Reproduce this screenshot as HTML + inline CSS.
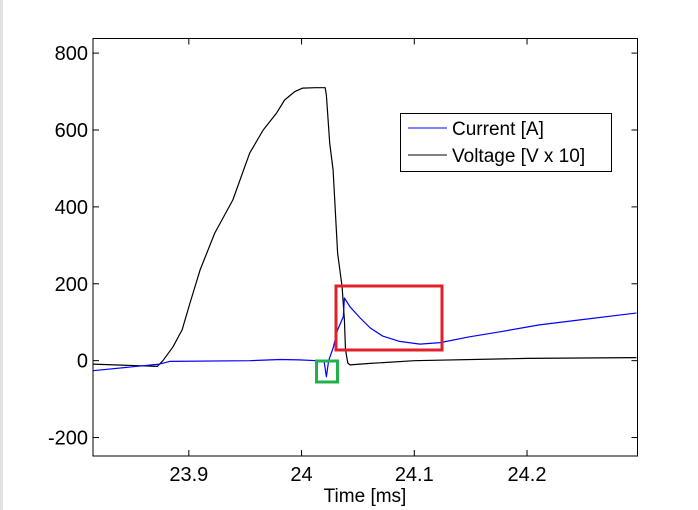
<!DOCTYPE html>
<html><head><meta charset="utf-8"><style>
body{margin:0;background:#fff;width:698px;height:510px;overflow:hidden}
svg{display:block;font-family:"Liberation Sans",Arial,sans-serif}
</style></head><body>
<svg id="chart" width="698" height="510" xmlns="http://www.w3.org/2000/svg">
<rect x="0" y="0" width="3" height="510" fill="#e2e2e2"/>
<g id="ticks"></g>
<g id="series"></g>
<rect x="93" y="38.5" width="544.5" height="417.5" fill="none" stroke="#000" stroke-width="1"/>
<rect x="336" y="286" width="106" height="64" fill="none" stroke="#e3202a" stroke-width="3"/>
<rect x="316.5" y="361" width="21" height="21" fill="none" stroke="#22b04a" stroke-width="3"/>
<text x="365" y="502" font-size="19" text-anchor="middle">Time [ms]</text>
<g>
<rect x="400.5" y="113.5" width="211" height="58" fill="#fff" stroke="#000"/>
<line x1="408" y1="128" x2="447" y2="128" stroke="#0000ff"/>
<text x="452" y="135" font-size="19">Current [A]</text>
<line x1="408" y1="155" x2="447" y2="155" stroke="#000"/>
<text x="452" y="162" font-size="19">Voltage [V x 10]</text>
</g>
</svg>
<script>
const xTicks=[23.9,24,24.1,24.2];
const xTickLabels=["23.9","24","24.1","24.2"];
const yTicks=[-200,0,200,400,600,800];
const yTickLabels=["-200","0","200","400","600","800"];
const voltageT=[23.815,23.872,23.877,23.886,23.894,23.901,23.910,23.923,23.939,23.954,23.966,23.978,23.985,23.994,24.001,24.012,24.021,24.022,24.025,24.028,24.032,24.036,24.038,24.039,24.041,24.043,24.061,24.100,24.200,24.297];
const voltageV=[-9,-15,0,36,80,150,236,332,418,540,600,645,678,700,709,710,710,690,566,496,280,192,106,28,-6,-11,-7,0,6,8];
const currentT=[23.815,23.874,23.883,23.954,23.981,23.998,24.014,24.020,24.022,24.024,24.028,24.032,24.037,24.038,24.043,24.052,24.061,24.072,24.087,24.105,24.123,24.149,24.176,24.211,24.247,24.297];
const currentV=[-26,-9,-2,0,3,2,0,-2,-42,0,33,80,114,163,140,111,85,64,50,43,47,62,75,93,106,124];
const X0=93,X1=637.5,Y0=456,Y1=38.5,TMIN=23.815,TMAX=24.298,VMIN=-248,VMAX=838;
const xs=t=>X0+(t-TMIN)/(TMAX-TMIN)*(X1-X0);
const ys=v=>Y0-(v-VMIN)/(VMAX-VMIN)*(Y0-Y1);
const NS="http://www.w3.org/2000/svg";
const tg=document.getElementById('ticks'),sg=document.getElementById('series');
function mk(tag,a,p){const e=document.createElementNS(NS,tag);for(const k in a)e.setAttribute(k,a[k]);p.appendChild(e);return e;}
xTicks.forEach((t,i)=>{const x=xs(t);
 const l1=mk('line',{x1:x,y1:Y0,x2:x,y2:Y0-6,stroke:'#000'},tg);
 
 
 const l2=mk('line',{x1:x,y1:Y1,x2:x,y2:Y1+6,stroke:'#000'},tg);
 
 
 const tx=mk('text',{x:x,y:481,'font-size':20,'text-anchor':'middle'},tg);tx.textContent=xTickLabels[i];
 
 
});
yTicks.forEach((v,i)=>{const y=ys(v);
 const l1=mk('line',{x1:X0,y1:y,x2:X0+6,y2:y,stroke:'#000'},tg);
 
 
 const l2=mk('line',{x1:X1,y1:y,x2:X1-6,y2:y,stroke:'#000'},tg);
 
 
 const tx=mk('text',{x:88,y:y+7,'font-size':20,'text-anchor':'end'},tg);tx.textContent=yTickLabels[i];
 
 
});
function path(T,V){return T.map((t,i)=>(i?'L':'M')+xs(t).toFixed(1)+','+ys(V[i]).toFixed(1)).join('');}
const pv=mk('path',{d:path(voltageT,voltageV),fill:'none',stroke:'#000','stroke-width':1.2,'stroke-linejoin':'round'},sg);


const pc=mk('path',{d:path(currentT,currentV),fill:'none',stroke:'#0000ff','stroke-width':1.2,'stroke-linejoin':'round'},sg);


</script>
</body></html>
